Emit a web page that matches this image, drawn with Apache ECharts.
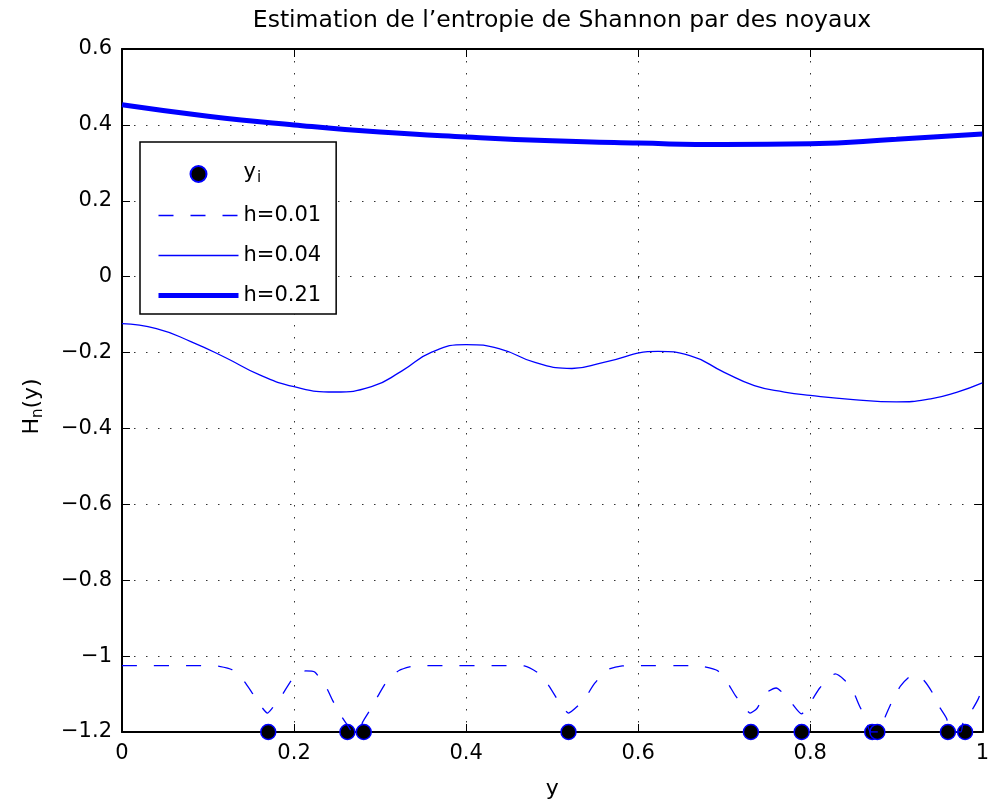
<!DOCTYPE html>
<html>
<head>
<meta charset="utf-8">
<script src="https://cdn.jsdelivr.net/npm/echarts@6/dist/echarts.min.js"></script>
<style>html,body{margin:0;padding:0;background:#fff}#c{width:992px;height:805px}</style>
</head>
<body>
<div id="c"></div>
<script>
// ---- data ----
var titleText = 'Estimation de l\u2019entropie de Shannon par des noyaux';
var seriesNames = ['y_i', 'h=0.01', 'h=0.04', 'h=0.21'];

var sampleX = [0.17, 0.262, 0.281, 0.519, 0.731, 0.790, 0.872, 0.878, 0.96, 0.98];
var sampleY = [-1.2, -1.2, -1.2, -1.2, -1.2, -1.2, -1.2, -1.2, -1.2, -1.2];

var h001X = [0, 0.10, 0.113, 0.128, 0.1415, 0.151, 0.1626, 0.169, 0.174, 0.1857, 0.1953, 0.204, 0.2135, 0.224, 0.2374, 0.2451, 0.2547, 0.2624, 0.268, 0.276, 0.2797, 0.2889, 0.2988, 0.3084, 0.322, 0.339, 0.35,
  0.455, 0.4676, 0.4848, 0.4964, 0.506, 0.514, 0.519, 0.530, 0.5393, 0.5493, 0.5642, 0.5815, 0.60,
  0.66, 0.675, 0.692, 0.7035, 0.713, 0.722, 0.730, 0.738, 0.7487, 0.7603, 0.7764, 0.7898, 0.8013, 0.811, 0.8243, 0.829, 0.8397, 0.8493, 0.857, 0.8646, 0.870, 0.880, 0.8876, 0.8953, 0.9048, 0.9163, 0.922, 0.9317, 0.9413, 0.949, 0.9586, 0.962, 0.975, 0.9778, 0.9854, 0.995, 1.0];
var h001Y = [-1.025, -1.025, -1.027, -1.036, -1.065, -1.096, -1.135, -1.15, -1.139, -1.104, -1.069, -1.046, -1.039, -1.042, -1.082, -1.118, -1.157, -1.183, -1.2, -1.2, -1.174, -1.14, -1.10, -1.065, -1.038, -1.026, -1.025,
  -1.025, -1.026, -1.046, -1.079, -1.114, -1.14, -1.15, -1.131, -1.107, -1.072, -1.036, -1.026, -1.025,
  -1.025, -1.027, -1.038, -1.069, -1.104, -1.13, -1.15, -1.138, -1.097, -1.084, -1.118, -1.152, -1.118, -1.084, -1.052, -1.047, -1.063, -1.09, -1.13, -1.165, -1.2, -1.2, -1.157, -1.118, -1.079, -1.053, -1.052, -1.063, -1.094, -1.13, -1.165, -1.2, -1.2, -1.174, -1.152, -1.114, -1.085];

var h004X = [0, 0.04, 0.08, 0.12, 0.16, 0.20, 0.247, 0.29, 0.325, 0.36, 0.40, 0.44, 0.48, 0.523, 0.56, 0.623, 0.66, 0.70, 0.735, 0.77, 0.80, 0.85, 0.90, 0.94, 0.97, 1.0];
var h004Y = [-0.124, -0.137, -0.171, -0.213, -0.259, -0.290, -0.304, -0.290, -0.249, -0.199, -0.179, -0.191, -0.226, -0.242, -0.226, -0.197, -0.208, -0.252, -0.287, -0.304, -0.313, -0.324, -0.330, -0.322, -0.305, -0.280];

var h021X = [0, 0.1, 0.2, 0.3, 0.4, 0.5, 0.6, 0.7, 0.8, 0.9, 1.0];
var h021Y = [0.453, 0.423, 0.400, 0.381, 0.368, 0.358, 0.352, 0.348, 0.350, 0.362, 0.376];

var xTicks = [0, 0.2, 0.4, 0.6, 0.8, 1];
var yTicks = [-1.2, -1, -0.8, -0.6, -0.4, -0.2, 0, 0.2, 0.4, 0.6];

function pairs(xs, ys) { return xs.map(function (x, i) { return [x, ys[i]]; }); }
function fmt(v) { var r = Math.round(v * 10) / 10; return String(r).replace('-', '\u2212'); }

var FONT = 'DejaVu Sans';
var BLUE = '#0000ff';
var NOFILL = 'rgba(0,0,0,0)';

var chart = echarts.init(document.getElementById('c'), null, { renderer: 'canvas' });

function axisCommon(extra) {
  var base = {
    type: 'value',
    axisLine: { show: true, onZero: false, lineStyle: { color: '#000', width: 2 } },
    axisTick: { show: true, inside: true, length: 8, lineStyle: { color: '#000', width: 1 } },
    splitLine: { show: false },
    axisLabel: { show: false }
  };
  for (var k in extra) base[k] = extra[k];
  return base;
}

var option = {
  backgroundColor: '#fff',
  animation: false,
  title: {
    text: titleText,
    left: 557, top: 4, textAlign: 'center',
    textStyle: { fontFamily: FONT, fontSize: 23.5, fontWeight: 'normal', color: '#000' }
  },
  grid: { left: 122, right: 1, top: 49, bottom: 72, containLabel: false },
  legend: {
    orient: 'vertical', left: 140, top: 142,
    data: [
      { name: 'y_i' },
      { name: 'h=0.01', lineStyle: { width: 1.3 }, itemStyle: { color: NOFILL, borderWidth: 0 } },
      { name: 'h=0.04', lineStyle: { width: 1.3 }, itemStyle: { color: NOFILL, borderWidth: 0 } },
      { name: 'h=0.21', lineStyle: { width: 5 }, itemStyle: { color: NOFILL, borderWidth: 0 } }
    ],
    itemWidth: 80, itemHeight: 16, itemGap: 19,
    padding: [15, 15, 8, 16],
    borderColor: '#000', borderWidth: 1.5, backgroundColor: '#fff',
    selectedMode: false,
    formatter: function (n) { return n === 'y_i' ? '{t|y}{s|i}' : '{n|' + n + '}'; },
    textStyle: {
      fontFamily: FONT, fontSize: 21, color: '#000',
      rich: {
        n: { fontFamily: FONT, fontSize: 21, lineHeight: 26, color: '#000' },
        t: { fontFamily: FONT, fontSize: 21, lineHeight: 24, verticalAlign: 'top', color: '#000' },
        s: { fontFamily: FONT, fontSize: 15, lineHeight: 18, verticalAlign: 'bottom', padding: [14, 0, 0, 1], color: '#000' }
      }
    }
  },
  xAxis: [
    axisCommon({
      position: 'bottom', min: 0, max: 1, interval: 0.2,
      name: 'y', nameLocation: 'middle', nameGap: 46,
      nameTextStyle: { fontFamily: FONT, fontSize: 22, color: '#000' },
      axisLabel: { show: true, margin: 11, fontFamily: FONT, fontSize: 21, color: '#000', formatter: fmt },
      splitLine: { show: true, lineStyle: { color: '#333', type: [1.5, 10.5], width: 1 } }
    }),
    axisCommon({ position: 'top', min: 0, max: 1, interval: 0.2 })
  ],
  yAxis: [
    axisCommon({
      position: 'left', min: -1.2, max: 0.6, interval: 0.2,
      name: '{a|H}{s|n}{a|(y)}', nameLocation: 'middle', nameGap: 76,
      nameTextStyle: {
        fontFamily: FONT, fontSize: 22, color: '#000', padding: [0, 32, 0, 0],
        rich: {
          a: { fontFamily: FONT, fontSize: 22, lineHeight: 25, verticalAlign: 'top', color: '#000' },
          s: { fontFamily: FONT, fontSize: 15, lineHeight: 18, verticalAlign: 'bottom', padding: [13, 0, 0, 0], color: '#000' }
        }
      },
      axisLabel: { show: true, margin: 10, fontFamily: FONT, fontSize: 21, color: '#000', formatter: fmt },
      splitLine: { show: true, lineStyle: { color: '#333', type: [1.5, 10.5], width: 1 } }
    }),
    axisCommon({ position: 'right', min: -1.2, max: 0.6, interval: 0.2 })
  ],
  series: [
    {
      name: 'y_i', type: 'scatter', data: pairs(sampleX, sampleY),
      symbol: 'circle', symbolSize: 15, clip: false, z: 3,
      itemStyle: { color: '#000', borderColor: BLUE, borderWidth: 1.5, opacity: 1 }
    },
    {
      name: 'h=0.01', type: 'line', data: pairs(h001X, h001Y),
      symbol: 'circle', showSymbol: false, smooth: 0.2, clip: true, z: 4,
      lineStyle: { color: BLUE, width: 1.3, type: [15, 17] },
      itemStyle: { color: NOFILL, borderWidth: 0 }
    },
    {
      name: 'h=0.04', type: 'line', data: pairs(h004X, h004Y),
      symbol: 'circle', showSymbol: false, smooth: 0.5, z: 4,
      lineStyle: { color: BLUE, width: 1.3 },
      itemStyle: { color: NOFILL, borderWidth: 0 }
    },
    {
      name: 'h=0.21', type: 'line', data: pairs(h021X, h021Y),
      symbol: 'circle', showSymbol: false, smooth: 0.5, z: 4,
      lineStyle: { color: BLUE, width: 5 },
      itemStyle: { color: NOFILL, borderWidth: 0 }
    }
  ]
};
chart.setOption(option);
</script>
</body>
</html>
